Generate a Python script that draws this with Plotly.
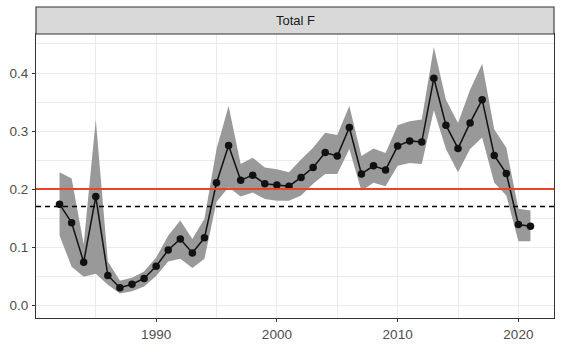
import plotly.graph_objects as go

years = list(range(1982, 2022))
f_est = [0.174, 0.142, 0.074, 0.187, 0.051, 0.030, 0.036, 0.046, 0.067, 0.095,
         0.114, 0.090, 0.116, 0.211, 0.275, 0.215, 0.224, 0.209, 0.207, 0.205,
         0.220, 0.237, 0.263, 0.257, 0.306, 0.226, 0.240, 0.233, 0.274, 0.283,
         0.281, 0.391, 0.310, 0.270, 0.314, 0.354, 0.258, 0.227, 0.139, 0.136]
f_upper = [0.229, 0.218, 0.105, 0.320, 0.075, 0.042, 0.047, 0.058, 0.082, 0.120,
           0.146, 0.114, 0.149, 0.269, 0.343, 0.243, 0.254, 0.237, 0.234, 0.229,
           0.251, 0.271, 0.297, 0.293, 0.343, 0.257, 0.270, 0.262, 0.310, 0.317,
           0.320, 0.445, 0.354, 0.314, 0.371, 0.416, 0.303, 0.271, 0.166, 0.163]
f_lower = [0.120, 0.066, 0.049, 0.054, 0.035, 0.020, 0.024, 0.032, 0.050, 0.075,
           0.080, 0.064, 0.080, 0.178, 0.203, 0.187, 0.194, 0.183, 0.180, 0.180,
           0.189, 0.209, 0.226, 0.226, 0.269, 0.197, 0.211, 0.205, 0.240, 0.245,
           0.243, 0.336, 0.269, 0.229, 0.269, 0.289, 0.211, 0.189, 0.110, 0.110]
ref_red = 0.2
ref_dash = 0.17
panel_title = "Total F"

fig = go.Figure()
fig.add_trace(go.Scatter(
    x=years + years[::-1], y=f_upper + f_lower[::-1],
    fill="toself", fillcolor="rgb(153,153,153)", line=dict(width=0),
    mode="lines", hoverinfo="skip", showlegend=False))
fig.add_hline(y=ref_red, line=dict(color="#E8442A", width=2))
fig.add_hline(y=ref_dash, line=dict(color="black", width=1.5, dash="5px,4px"))
fig.add_trace(go.Scatter(
    x=years, y=f_est, mode="lines+markers",
    line=dict(color="#111111", width=1.5),
    marker=dict(color="#111111", size=7.5), showlegend=False))

grid = "#EBEBEB"
font_fam = "Liberation Sans, Arial"
axis_common = dict(
    showline=True, mirror=True, linecolor="#333333", linewidth=1.1,
    ticks="outside", ticklen=3, tickcolor="#333333", tickwidth=1,
    gridcolor=grid, gridwidth=1.1, zeroline=False, automargin=False,
    tickfont=dict(family=font_fam, size=13.5, color="#4D4D4D"),
)
fig.update_xaxes(range=[1980.05, 2022.95], tick0=1990, dtick=10, ticklabelstandoff=1,
                 minor=dict(dtick=5, tick0=1985, showgrid=True, gridcolor=grid, gridwidth=0.6, ticks=""),
                 **axis_common)
fig.update_yaxes(range=[-0.0222, 0.4672], tick0=0, dtick=0.1, tickformat=".1f", ticklabelstandoff=1,
                 minor=dict(dtick=0.05, tick0=0.05, showgrid=True, gridcolor=grid, gridwidth=0.6, ticks=""),
                 **axis_common)

strip_h = 27 / 284
fig.add_shape(type="rect", xref="paper", yref="paper", x0=0, x1=1, y0=1.0, y1=1 + strip_h,
              fillcolor="#D9D9D9", line=dict(color="#333333", width=1.1), layer="above")
fig.add_annotation(text=panel_title, xref="paper", yref="paper", x=0.5, y=1 + strip_h / 2,
                   showarrow=False, yanchor="middle",
                   font=dict(family=font_fam, size=13, color="#1A1A1A"))

fig.update_layout(
    width=566, height=344,
    margin=dict(l=36, r=12, t=34, b=26),
    plot_bgcolor="white", paper_bgcolor="white",
    showlegend=False,
)
fig.write_html("out.html")
